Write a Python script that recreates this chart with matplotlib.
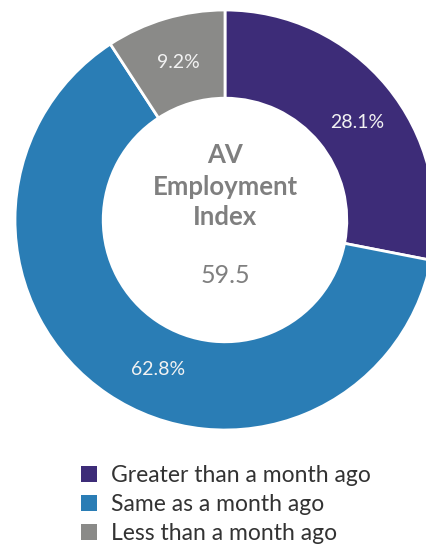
import numpy as np
import matplotlib.pyplot as plt

labels = ["Greater than a month ago", "Same as a month ago", "Less than a month ago"]
shares = [28.1, 62.8, 9.2]
share_labels = ["28.1%", "62.8%", "9.2%"]
colors = ["#3d2c78", "#2a7db5", "#8a8a88"]
index_value = "59.5"
# small nudges (degrees) of the percentage labels away from the wedge middle
label_nudge = [-3, 10, 0]

plt.rcParams['font.family'] = ['Lato', 'DejaVu Sans']

W, H = 427, 548
fig = plt.figure(figsize=(W / 100, H / 100), dpi=100)
ax = fig.add_axes([0, 0, 1, 1])

cx, cy, r = 225, H - 220, 210
wedges, _ = ax.pie(shares, colors=colors, startangle=90, counterclock=False,
                   center=(cx, cy), radius=r, frame=True,
                   wedgeprops=dict(width=r * 0.42, edgecolor="white", linewidth=2))
for w, lab, nudge in zip(wedges, share_labels, label_nudge):
    ang = np.deg2rad((w.theta1 + w.theta2) / 2 + nudge)
    ax.text(cx + 0.78 * r * np.cos(ang), cy + 0.78 * r * np.sin(ang), lab,
            ha='center', va='center', color="#f2f2f2", fontsize=14)
ax.set_xlim(0, W)
ax.set_ylim(0, H)
ax.set_aspect('equal')
ax.axis('off')

# centre caption
grey = "#7f7f7f"
ax.text(cx, H - 163, "AV", ha='center', va='baseline', fontsize=18.5, fontweight='bold', color=grey)
ax.text(cx, H - 195, "Employment", ha='center', va='baseline', fontsize=18.5, fontweight='bold', color=grey)
ax.text(cx, H - 225, "Index", ha='center', va='baseline', fontsize=18.5, fontweight='bold', color=grey)
ax.text(cx, H - 283, index_value, ha='center', va='baseline', fontsize=18, color=grey)

fig.legend(wedges, labels, loc='upper left', bbox_to_anchor=(81 / W, 1 - 465 / H),
           frameon=False, fontsize=16.5, borderpad=0, borderaxespad=0,
           handlelength=0.7, handleheight=0.7, handletextpad=0.6,
           labelspacing=0.34, labelcolor="#333333")
for h in fig.legends[0].legend_handles:
    h.set_edgecolor('none')

fig.savefig('out.png', dpi=100)
